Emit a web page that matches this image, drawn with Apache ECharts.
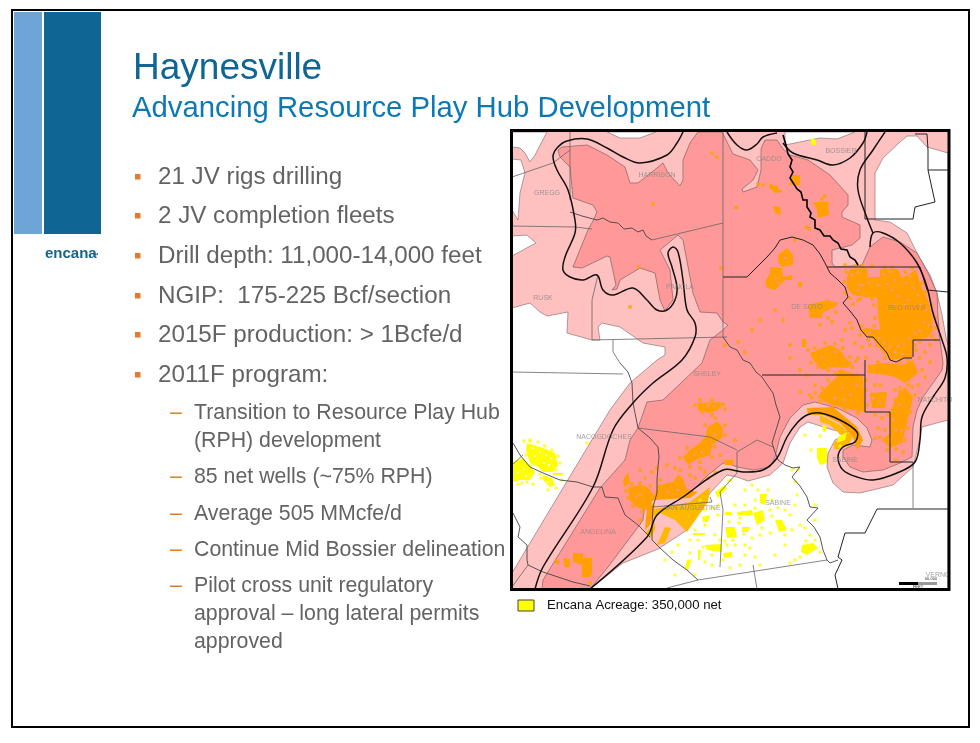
<!DOCTYPE html>
<html>
<head>
<meta charset="utf-8">
<title>Haynesville</title>
<script src="https://cdn.jsdelivr.net/npm/echarts@6/dist/echarts.min.js"></script>
<style>
  html, body { margin: 0; padding: 0; background: #fff; }
  #chart { width: 980px; height: 743px; }
</style>
</head>
<body>
<div id="chart"></div>
<script>
// --- SLIDE TEXT ---
const titleText = "Haynesville";
const subtitleText = "Advancing Resource Play Hub Development";
const bulletLines = [
  "21 JV rigs drilling",
  "2 JV completion fleets",
  "Drill depth: 11,000-14,000 feet",
  "NGIP:  175-225 Bcf/section",
  "2015F production: > 1Bcfe/d",
  "2011F program:",
];
const subBulletLines = [
  ["Transition to Resource Play Hub", "(RPH) development"],
  ["85 net wells (~75% RPH)"],
  ["Average 505 MMcfe/d"],
  ["Continue Mid Bossier delineation"],
  ["Pilot cross unit regulatory", "approval – long lateral permits", "approved"],
];
const legendText = "Encana Acreage: 350,000 net";

// --- MAP DATA (map units) ---
const whiteAreas = [
  [[512,132],[547,132],[535,155],[530,162],[525,153],[520,148],[512,147]],
  [[512,159],[521,160],[525,173],[520,193],[518,220],[512,210]],
  [[512,236],[527,235],[536,243],[523,250],[512,256]],
  [[512,308],[530,303],[540,312],[547,316],[568,312],[567,333],[592,340],[600,340],[598,327],[602,323],[620,327],[643,343],[665,347],[665,355],[657,360],[630,383],[610,410],[590,443],[560,493],[512,573]],
  [[607,132],[620,138],[640,138],[656,132]],
  [[785,132],[785,145],[800,142],[820,138],[837,139],[855,132]],
  [[875,220],[875,173],[883,158],[900,142],[907,136],[917,136],[927,147],[948,153],[948,345],[946,337],[942,315],[937,293],[930,275],[918,255],[907,233],[890,222]],
  [[948,420],[922,427],[918,447],[913,467],[893,485],[860,493],[843,492],[833,483],[827,467],[828,453],[835,440],[848,432],[833,430],[808,422],[800,427],[790,443],[783,463],[770,475],[748,481],[737,477],[727,475],[710,493],[687,530],[658,549],[623,563],[590,589],[948,589]],
];
const fairwayArea = [
  [558,150],[562,147],[587,145],[607,155],[625,167],[630,183],[638,183],[652,172],[663,163],[668,173],[680,186],[683,180],[683,160],[690,143],[698,132],[722,132],[726,140],
  [733,154],[750,160],[758,170],[753,180],[742,189],[743,192],[757,187],[761,170],[761,149],[765,140],[777,140],[783,149],[790,155],[808,160],[830,175],
  [848,195],[848,205],[842,212],[842,217],[860,225],[860,238],[852,245],[840,248],[832,250],[832,263],[835,267],[853,266],[862,265],[870,247],[883,237],[900,242],[917,253],[928,273],[937,293],[938,317],[940,340],
  [943,363],[942,370],[933,383],[923,397],[917,410],[913,427],[912,457],[900,463],[883,470],[863,472],[850,467],[843,457],[843,450],[853,445],[870,447],[872,440],[867,428],[857,418],[837,408],[815,402],[803,405],[790,418],[780,437],[775,457],[770,467],[753,470],[737,467],[727,463],[723,463],[708,475],[693,490],[683,493],[653,500],[645,503],[643,520],[638,527],[608,567],[590,589],[542,589],[543,580],[600,488],[625,460],[630,440],[638,428],[647,402],[663,400],[702,363],
  [710,340],[723,330],[728,325],[723,322],[717,313],[700,312],[693,293],[683,240],[678,235],[660,250],[670,270],[673,300],[665,311],[660,300],[655,273],[640,268],[620,280],[617,289],[612,290],[616,285],[610,257],[607,256],[582,268],[573,267],[588,230],[593,221],[597,212],[593,205],[573,198],[570,167],[560,157],
];
const orangeBlobs = [
  [[847,277],[850,269],[867,268],[868,277],[880,277],[880,269],[898,269],[902,278],[916,270],[919,280],[923,290],[928,300],[932,317],[933,330],[927,338],[913,340],[912,357],[890,360],[883,352],[872,338],[858,330],[867,328],[880,330],[878,313],[877,297],[865,297],[853,295],[847,288]],
  [[810,353],[830,345],[840,350],[847,360],[853,363],[847,368],[830,367],[823,370],[813,360]],
  [[838,370],[852,373],[863,377],[865,412],[853,410],[840,407],[827,403],[817,397],[830,383],[837,377]],
  [[868,365],[887,363],[903,365],[913,360],[918,373],[905,383],[895,377],[887,375],[868,373]],
  [[870,393],[887,392],[885,408],[872,408]],
  [[905,387],[913,397],[907,423],[902,443],[890,448],[882,440],[890,433],[890,412],[897,397]],
  [[807,408],[833,407],[857,427],[863,440],[857,450],[853,437],[840,423],[823,415],[808,415]],
  [[778,255],[787,248],[793,255],[793,265],[782,267],[778,262]],
  [[770,267],[782,268],[783,277],[792,275],[792,280],[785,280],[775,290],[767,288],[765,282],[770,273]],
  [[798,282],[802,282],[802,287],[798,287]],
  [[808,305],[827,300],[838,303],[835,307],[822,313],[822,318],[810,318]],
  [[802,339],[806,339],[806,347],[802,347]],
  [[770,183],[783,192],[775,193],[769,188]],
  [[773,206],[780,207],[781,215],[775,213]],
  [[734,206],[738,206],[738,209],[734,209]],
  [[813,202],[828,202],[829,215],[818,218],[817,210]],
  [[790,175],[800,175],[800,185],[790,185]],
  [[698,403],[720,402],[722,408],[710,413],[698,410]],
  [[708,427],[717,421],[723,428],[722,438],[712,445],[710,455],[695,460],[688,465],[683,457],[690,450],[700,443],[705,437]],
  [[628,487],[643,485],[648,488],[655,497],[647,510],[637,507],[630,500]],
  [[623,480],[628,472],[630,483],[624,487]],
  [[658,485],[673,482],[678,475],[682,477],[687,490],[698,492],[690,498],[653,500]],
  [[725,460],[733,460],[733,465],[725,465]],
  [[647,505],[655,505],[650,525],[645,530]],
  [[555,558],[560,562],[558,565],[555,562]],
  [[563,558],[570,559],[570,567],[565,567]],
  [[573,553],[583,553],[583,558],[592,558],[592,573],[590,577],[582,577],[582,565],[573,562]],
];
const goldBlobs = [
  [[650,510],[690,502],[710,487],[708,502],[687,532],[675,520],[660,513],[650,520]],
  [[657,545],[665,527],[671,528],[665,543]],
  [[645,533],[655,523],[655,530],[650,538]],
  [[820,415],[840,425],[853,437],[847,447],[835,450],[833,443],[843,437],[830,425],[820,422]],
];
const yellowBlobs = [
  [[527,443],[543,448],[555,453],[558,465],[553,472],[543,472],[538,467],[530,463],[526,450]],
  [[513,462],[523,458],[535,472],[530,480],[520,480],[513,482]],
  [[543,475],[552,478],[555,485],[550,487],[543,480]],
  [[553,473],[563,473],[563,475],[553,475]],
  [[737,512],[752,510],[753,515],[738,515]],
  [[753,513],[763,510],[765,520],[757,525]],
  [[760,494],[767,494],[765,505],[760,503]],
  [[775,520],[782,520],[787,530],[779,532]],
  [[802,545],[813,543],[818,548],[807,555],[801,552]],
  [[705,545],[722,544],[722,552],[707,550]],
  [[725,527],[735,527],[737,537],[727,538]],
  [[742,527],[750,527],[748,532],[742,532]],
  [[723,553],[732,552],[732,557],[724,558]],
  [[698,550],[701,550],[700,560],[698,560]],
  [[687,560],[692,559],[688,570],[685,568]],
  [[693,533],[705,533],[705,535],[693,535]],
  [[702,517],[710,515],[708,522],[703,522]],
  [[715,492],[725,485],[727,488],[718,498]],
  [[727,480],[733,478],[730,483]],
  [[725,512],[732,512],[731,515],[725,515]],
  [[822,425],[827,425],[825,433]],
  [[838,437],[847,432],[845,440],[837,443]],
  [[817,448],[827,448],[827,463],[820,465],[817,458]],
  [[810,138],[816,140],[816,145],[812,145]],
];
const orangeSpecks = [
  [653,204],[712,153],[717,157],[630,307],[639,267],[721,268],[763,185],[758,184],[776,187],[825,196],[822,199],[806,227],[809,229],[657,468],[645,478],
  [845,265],[850,283],[858,300],[853,304],[836,312],[832,322],[820,325],[828,318],[845,330],[850,323],[842,340],[855,343],[862,347],[870,345],[858,358],[866,358],[878,362],
  [920,358],[925,352],[930,345],[915,345],[935,340],[922,370],[925,377],[930,362],[918,385],[912,387],[908,380],[900,388],[895,390],[875,385],[880,385],[898,405],[875,415],[882,418],[878,428],[875,438],[896,460],[903,452],
  [790,345],[783,320],[775,310],[760,320],[752,330],[745,352],[738,342],[790,358],[800,370],[807,375],[815,385],[800,392],[810,395],[725,345],[795,240],
  [667,465],[675,468],[700,468],[705,472],[715,472],[720,455],[735,440],[640,470],[652,472],[640,520],[660,480],[695,478],[690,475],[708,478],[680,470],[590,583],
  [846,272],[855,266],[862,266],[872,266],[885,267],[892,267],[905,272],[912,268],[922,283],[926,292],[931,305],[935,318],[936,328],[931,336],[920,342],[916,350],[908,361],[900,362],[885,358],[877,345],[868,340],[860,335],[852,328],[862,326],[874,326],[875,318],[874,305],[872,299],[860,299],[850,298],[845,293],[844,282],
  [808,350],[815,348],[825,343],[835,344],[843,348],[850,357],[856,361],[852,367],[842,371],[828,370],[818,367],[811,363],
  [835,373],[828,380],[822,388],[815,393],[812,398],[820,402],[832,407],[845,410],[858,413],[867,405],[866,390],[866,380],[857,375],
  [900,392],[895,400],[888,415],[885,430],[880,437],[887,450],[896,449],[905,440],[908,428],[910,412],[915,395],[908,385],
  [695,405],[700,400],[712,400],[723,404],[725,409],[712,415],[702,412],[705,425],[715,418],[725,425],[725,435],[715,447],[712,457],[700,462],[690,467],[680,458],[687,448],
  [626,491],[632,484],[640,483],[650,486],[657,493],[652,505],[642,511],[633,506],[628,498],
];
const yellowSpecks = [
  [587,443],[530,440],[538,442],[515,470],[522,483],[533,484],[562,480],[548,490],
  [524,441],[530,441],[545,446],[552,450],[558,456],[560,463],[556,470],[540,474],[526,455],[530,466],[512,485],[518,484],[527,482],[541,478],[556,488],
  [700,500],[713,508],[705,510],[718,505],[695,530],[690,540],[678,545],[672,552],[665,560],[690,553],[705,562],[712,565],[720,540],[715,535],[727,545],[735,545],[745,545],[752,538],[760,535],[770,533],[740,518],[745,505],[755,500],[772,500],[778,508],[785,510],[790,515],[770,510],[795,505],[792,530],[800,525],[785,545],[775,555],[760,565],[755,557],[745,555],[740,565],[750,548],[790,563],[795,560],[785,535],[745,490],[752,485],[718,515],[735,505],[762,528],[810,535],[805,528],[815,505],[815,520],[824,430],[792,470],[795,482],[797,495],[805,435],[820,436],[811,450],[798,470],[705,525],[730,568],[723,560],[695,575],[675,575],[840,446],
  [733,540],[739,523],[744,534],[729,522],[755,508],[758,490],[768,490],[772,516],[762,518],[725,541],[698,540],[712,555],[703,547],[800,557],[815,540],[820,552],[806,541],
];
const fairwayHoles = [
  [852,275],[858,272],[863,285],[869,283],[858,290],[872,272],[884,274],[890,272],[895,280],[887,284],[892,290],[878,285],[910,276],[906,283],[914,288],[918,295],[921,305],[926,310],[924,322],[929,325],[920,331],[915,333],[909,338],[904,344],[898,346],[890,347],[884,343],[879,338],[908,300],[905,305],[898,296],[895,305],[870,333],[895,352],[903,354],[860,285],
  [835,352],[822,357],[842,388],[850,395],[845,400],[835,398],[857,385],[873,398],[880,402],[893,420],[896,430],[902,430],[899,405],
  [775,258],[785,258],[776,278],[778,283],[720,408],[714,406],[708,406],[715,435],[702,452],[694,455],[640,495],[636,497],[678,490],[668,492],
];
const yellowHoles = [[533,448],[540,452],[546,455],[551,458],[535,456],[544,463],[549,465],[524,469],[518,473],[526,476],[548,482]];

const contourLines = [
  [[683,132],[677,143],[667,155],[640,163],[623,157],[607,148],[587,139],[567,141],[557,148],[553,157],[557,170],[568,190],[575,220],[575,233],[565,257],[563,270],[570,277],[583,280],[597,275],[603,290],[613,295],[633,288],[647,300],[657,310],[667,310],[675,300],[677,287],[672,267],[668,253],[673,247],[678,252],[683,280],[687,310],[695,323],[695,337],[682,360],[653,383],[633,403],[613,430],[593,487],[543,567],[535,589]],
  [[590,589],[647,537],[657,515],[683,497],[723,470],[743,472],[763,470],[777,458],[787,437],[797,423],[807,415],[820,413],[840,420],[857,432],[855,442],[843,447],[838,457],[843,470],[857,477],[873,480],[897,473],[915,462],[920,440],[922,417],[933,397],[945,378],[947,358],[942,340],[933,313],[927,287],[917,263],[900,243],[883,233],[873,233],[870,247]],
  [[885,132],[873,150],[860,170],[858,190],[867,218],[873,233]],
  [[727,132],[737,145],[747,150],[757,144],[763,137],[777,133]],
  [[783,143],[793,153],[817,160],[833,165],[850,158],[863,143],[867,132]],
];
const boundaryLines = [
  [[512,177],[553,163],[570,150]],
  [[570,132],[570,200]],
  [[512,226],[575,227],[592,229]],
  [[592,340],[592,300],[598,275]],
  [[592,340],[727,337]],
  [[613,340],[613,352],[620,363]],
  [[512,372],[623,374]],
  [[638,428],[710,437],[737,450]],
  [[723,132],[723,337]],
  [[652,240],[723,223]],
  [[737,452],[757,440],[773,447]],
  [[737,452],[737,473],[720,492],[723,510],[720,567]],
  [[653,507],[712,502],[710,497]],
  [[698,580],[827,560]],
  [[667,588],[698,580]],
  [[753,565],[757,589]],
  [[913,462],[913,508]],
  [[512,587],[528,565]],
  [[512,465],[523,455]],
];
const countyLines = [
  [[762,375],[865,375]],
  [[865,132],[865,219],[868,219],[913,219],[915,207],[935,202],[933,193],[928,170],[928,150],[927,134],[915,134]],
  [[928,170],[948,170]],
  [[827,267],[920,267],[927,290],[948,292]],
  [[913,340],[913,357]],
  [[913,340],[940,340]],
  [[865,360],[865,412],[890,412],[890,462],[913,462]],
  [[877,509],[948,509]],
  [[877,509],[865,533],[845,533],[838,557],[842,560],[835,575],[838,589]],
  [[723,277],[747,277],[767,257],[775,248],[780,240],[792,237],[803,240],[813,245],[820,254],[825,263],[830,273],[838,280],[845,287],[848,297],[843,303],[850,311],[857,320],[861,330],[867,337],[873,337],[880,345],[887,353],[890,360],[896,362],[904,358],[912,358]],
];
const riverLines = [
  [[570,212],[582,216],[597,220],[603,218],[610,222],[618,223],[624,229],[632,228],[638,232],[643,230],[646,236],[652,240]],
  [[723,337],[730,347],[737,350],[743,360],[750,363],[756,372],[762,377],[768,386],[773,393],[776,405],[780,417],[776,430],[772,443],[775,452],[778,460],[785,465],[793,468],[800,467],[792,477],[800,486],[807,497],[810,507],[818,508],[807,520],[814,527],[820,537],[823,550],[827,560],[830,563],[838,560]],
  [[620,363],[628,372],[632,383],[633,403],[638,428],[650,438],[658,447],[659,457],[658,467],[657,480],[657,493],[653,507],[652,525],[652,540],[660,548],[673,560],[687,570],[698,580]],
  [[513,443],[520,455],[530,467],[543,473],[560,480],[577,482],[593,487],[602,487],[605,497],[618,498],[625,515],[638,525],[650,537]],
  [[513,513],[520,527],[518,537],[527,545],[527,560],[528,565],[543,572],[573,582],[590,586]],
];
const redRiver = [
  [[783,135],[786,145],[788,154],[792,160],[790,167],[793,172],[790,178],[797,189],[801,192],[803,200],[807,200],[807,207],[811,213],[810,217],[815,220],[815,228],[820,230],[824,236],[830,236],[833,240],[838,243],[841,249],[847,250],[850,257],[855,260],[858,265]],
  [[915,300],[925,312],[933,322],[935,330],[938,338]],
];
const countyLabels = [
  ["GREGG", 547, 193], ["HARRISON", 657, 175], ["PANOLA", 680, 287], ["RUSK", 543, 298], ["CADDO", 769, 159],
  ["BOSSIER", 841, 151], ["DE SOTO", 807, 307], ["RED RIVER", 907, 308], ["SHELBY", 707, 374], ["NACOGDOCHES", 604, 437],
  ["ANGELINA", 598, 532], ["SAN AUGUSTINE", 692, 508], ["SABINE", 845, 460], ["SABINE", 778, 503], ["NATCHITO", 935, 400], ["VERNO", 938, 575],
];

// --- HELPERS ---
function areaSeries(polys, fill, stroke, z) {
  return {
    type: "custom",
    silent: true,
    z: z,
    clip: true,
    data: polys.map((p, i) => [p[0][0], p[0][1], i]),
    renderItem: (params, api) => ({
      type: "polygon",
      shape: { points: polys[params.dataIndex].map((p) => api.coord(p)) },
      style: { fill: fill, stroke: stroke, lineWidth: stroke ? 0.8 : 0 },
    }),
  };
}

function lineSeries(lines, color, width, smooth, z) {
  return {
    type: "custom",
    silent: true,
    z: z,
    clip: true,
    data: lines.map((p, i) => [p[0][0], p[0][1], i]),
    renderItem: (params, api) => ({
      type: "polyline",
      shape: { points: lines[params.dataIndex].map((p) => api.coord(p)), smooth: smooth },
      style: { fill: null, stroke: color, lineWidth: width },
    }),
  };
}

function speckSeries(points, color, size, z) {
  return { type: "scatter", silent: true, z: z, symbol: "rect", symbolSize: size, itemStyle: { color: color }, data: points };
}

// --- SLIDE TEXT & FURNITURE ---
const FONT = '"Liberation Sans", Arial, sans-serif';
const graphics = [
  { type: "rect", shape: { x: 12, y: 10, width: 957, height: 717 }, style: { fill: null, stroke: "#000", lineWidth: 2 }, z: 100 },
  { type: "rect", shape: { x: 14, y: 12, width: 28, height: 222 }, style: { fill: "#6fa5d6" } },
  { type: "rect", shape: { x: 44, y: 12, width: 57, height: 222 }, style: { fill: "#0f6694" } },
  { type: "text", style: { text: "encana", x: 45, y: 254, font: "bold 15px " + FONT, fill: "#1a6488", verticalAlign: "middle" } },
  { type: "text", style: { text: "™", x: 92, y: 256, font: "bold 7px " + FONT, fill: "#1a6488", verticalAlign: "middle" } },
  { type: "text", style: { text: titleText, x: 133, y: 69, font: "37px " + FONT, fill: "#0f6594", verticalAlign: "middle" } },
  { type: "text", style: { text: subtitleText, x: 132, y: 109, font: "29.3px " + FONT, fill: "#0c78b4", verticalAlign: "middle" } },
  // map frame, legend and scale bar
  { type: "rect", shape: { x: 511.5, y: 130.5, width: 437.5, height: 459 }, style: { fill: null, stroke: "#000", lineWidth: 3 }, z: 100 },
  { type: "rect", shape: { x: 518, y: 600, width: 16, height: 11 }, style: { fill: "#ffff00", stroke: "#444", lineWidth: 1 } },
  { type: "text", style: { text: legendText, x: 547, y: 605, font: "13.2px " + FONT, fill: "#111", verticalAlign: "middle" } },
  { type: "rect", shape: { x: 899, y: 582, width: 19, height: 3 }, style: { fill: "#000" }, z: 90 },
  { type: "rect", shape: { x: 918, y: 582, width: 19, height: 3 }, style: { fill: "#999" }, z: 90 },
  { type: "text", style: { text: "60,000", x: 931, y: 579, font: "4px " + FONT, fill: "#333", align: "center", verticalAlign: "middle" }, z: 90 },
  { type: "text", style: { text: "FEET", x: 918, y: 587, font: "4px " + FONT, fill: "#333", align: "center", verticalAlign: "middle" }, z: 90 },
];

const bulletY = [177, 216, 256, 296, 335, 375];
bulletLines.forEach((text, i) => {
  graphics.push({ type: "rect", shape: { x: 135, y: bulletY[i] - 3, width: 5.5, height: 5.5 }, style: { fill: "#e8792b" } });
  graphics.push({ type: "text", style: { text: text, x: 158, y: bulletY[i], font: "24.2px " + FONT, fill: "#636363", verticalAlign: "middle" } });
});

const subY = [[413, 441], [477], [514], [550], [586, 614, 642]];
subBulletLines.forEach((lines, i) => {
  graphics.push({ type: "text", style: { text: "–", x: 170, y: subY[i][0], font: "21.3px " + FONT, fill: "#e8792b", verticalAlign: "middle" } });
  lines.forEach((text, j) => {
    graphics.push({ type: "text", style: { text: text, x: 194, y: subY[i][j], font: "21.3px " + FONT, fill: "#636363", verticalAlign: "middle" } });
  });
});

// --- CHART ---
const myChart = echarts.init(document.getElementById("chart"));
myChart.setOption({
  animation: false,
  backgroundColor: "#fff",
  grid: { left: 512, top: 132, width: 436, height: 457, show: true, backgroundColor: "#ffc0c0", borderWidth: 0 },
  xAxis: { type: "value", min: 512, max: 948, show: false },
  yAxis: { type: "value", min: 132, max: 589, inverse: true, show: false },
  graphic: graphics,
  series: [
    areaSeries(whiteAreas, "#fff", "#a08080", 2),
    areaSeries([fairwayArea], "#ff9999", "#8f6a6a", 3),
    areaSeries(goldBlobs, "#ffb800", null, 4),
    areaSeries(orangeBlobs, "#ffa000", null, 4),
    areaSeries(yellowBlobs, "#ffff00", null, 4),
    speckSeries(orangeSpecks, "#ffa000", 3.5, 5),
    speckSeries(yellowSpecks, "#ffff00", 3, 5),
    speckSeries(fairwayHoles, "#ff9999", 2.5, 5),
    speckSeries(yellowHoles, "#fff", 2, 5),
    lineSeries(boundaryLines, "#666", 0.8, 0, 6),
    lineSeries(countyLines, "#222", 1, 0, 6),
    lineSeries(riverLines, "#444", 0.9, 0, 6),
    lineSeries(redRiver.slice(0, 1), "#000", 1.6, 0, 6),
    lineSeries(contourLines, "#111", 1.5, 0.35, 7),
    {
      type: "scatter",
      silent: true,
      z: 8,
      symbolSize: 0,
      data: countyLabels.map((l) => ({ value: [l[1], l[2]], name: l[0] })),
      label: {
        show: true,
        position: "inside",
        formatter: "{b}",
        fontFamily: "Liberation Sans",
        fontSize: 7,
        color: "#8a8a8a",
      },
    },
  ],
});
</script>
</body>
</html>
